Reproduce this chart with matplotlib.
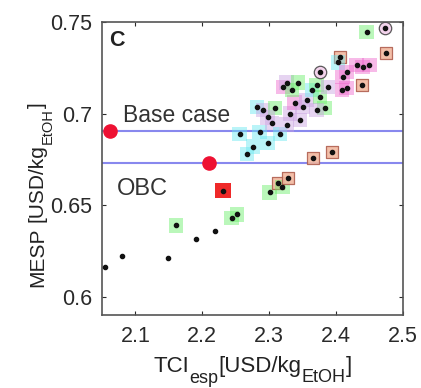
import matplotlib
matplotlib.use("Agg")
import matplotlib.pyplot as plt
from matplotlib.transforms import IdentityTransform

plt.rcParams["font.family"] = ["Liberation Sans", "DejaVu Sans"]

# scenario points: TCI_esp (x), MESP (y), halo group
tci = [2.054, 2.080, 2.149, 2.161, 2.190, 2.219, 2.231, 2.244, 2.252,
       2.301, 2.313, 2.320, 2.328, 2.365, 2.394,
       2.256, 2.267, 2.276, 2.298, 2.286,
       2.282, 2.291, 2.309, 2.298, 2.304, 2.316, 2.326, 2.331, 2.338, 2.350,
       2.346, 2.321, 2.326, 2.334, 2.343, 2.356, 2.364, 2.371, 2.376, 2.376,
       2.383, 2.371, 2.388,
       2.406, 2.403, 2.410, 2.416, 2.409, 2.416, 2.431, 2.440, 2.450, 2.439,
       2.446, 2.473, 2.474]
mesp = [0.616, 0.622, 0.621, 0.639, 0.6315, 0.636, 0.658, 0.643, 0.645,
        0.657, 0.662, 0.660, 0.665, 0.676, 0.679,
        0.689, 0.678, 0.682, 0.684, 0.690,
        0.7036, 0.702, 0.703, 0.698, 0.695, 0.689, 0.694, 0.700, 0.706, 0.7036,
        0.6965, 0.7145, 0.717, 0.713, 0.717, 0.7074, 0.713, 0.7156, 0.709, 0.7227,
        0.703, 0.702, 0.7145,
        0.731, 0.728, 0.720, 0.7227, 0.713, 0.714, 0.7265, 0.7255, 0.7265, 0.7156,
        0.7447, 0.7467, 0.733]
group = ["none", "none", "none", "green", "none", "none", "red", "green", "green",
         "green", "salmon", "green", "salmon", "salmon", "salmon",
         "cyan", "cyan", "cyan", "cyan", "cyan",
         "cyan", "purple", "green", "purple", "purple", "cyan", "purple", "purple", "magenta", "purple",
         "purple", "magenta", "purple", "green", "green", "purple", "cyan", "green", "green", "circle",
         "green", "purple", "purple",
         "salmon", "cyan", "magenta", "magenta", "magenta", "magenta", "magenta", "magenta", "magenta", "salmon",
         "green", "circle", "salmon"]

halo_colors = {"green": "#66ee66", "red": "#ee1111", "salmon": "#f2b8a0",
               "cyan": "#66e8f0", "magenta": "#ee66cc", "purple": "#c8a0e0",
               "circle": "#f0c8e8"}

base_case = (2.062, 0.6905)
obc = (2.210, 0.673)

xticks = [2.1, 2.2, 2.3, 2.4, 2.5]
xticklabels = ["2.1", "2.2", "2.3", "2.4", "2.5"]
yticks = [0.6, 0.65, 0.7, 0.75]
yticklabels = ["0.6", "0.65", "0.7", "0.75"]

W, H = 421, 388
fig = plt.figure(figsize=(W / 100, H / 100), dpi=100)
ax = fig.add_axes([0.242, 0.188, 0.715, 0.755])

for xi, yi, g in zip(tci, mesp, group):
    if g == "none":
        continue
    if g == "circle":
        ax.scatter(xi, yi, s=80, marker="o", facecolor=halo_colors[g],
                   edgecolor="#333333", linewidths=0.9, alpha=0.8, zorder=2)
    elif g == "salmon":
        ax.scatter(xi, yi, s=80, marker="s", facecolor=halo_colors[g],
                   edgecolor="#b06050", linewidths=0.9, alpha=0.9, zorder=2)
    elif g == "red":
        ax.scatter(xi, yi, s=130, marker="s", facecolor=halo_colors[g],
                   edgecolor="none", alpha=0.9, zorder=2)
    else:
        ax.scatter(xi, yi, s=110, marker="s", facecolor=halo_colors[g],
                   edgecolor="none", alpha=0.45, zorder=2)

ax.scatter(tci, mesp, s=9, color="#111111", zorder=3)

ax.axhline(base_case[1], color="#8888ee", lw=1.5, zorder=1)
ax.axhline(obc[1], color="#8888ee", lw=1.5, zorder=1)
ax.scatter([base_case[0], obc[0]], [base_case[1], obc[1]], s=90,
           color="#ee1133", zorder=4, clip_on=False)

ax.text(2.081, 0.6954, "Base case", fontsize=16.5, color="#333333")
ax.text(2.0724, 0.6555, "OBC", fontsize=17, color="#333333")
ax.text(2.061, 0.7372, "C", fontsize=15.5, fontweight="bold", color="#222222")

ax.set_xlim(2.05, 2.5)
ax.set_ylim(0.59, 0.75)
ax.set_xticks(xticks)
ax.set_xticklabels(xticklabels)
ax.set_yticks(yticks)
ax.set_yticklabels(yticklabels)
ax.tick_params(direction="in", top=True, right=True, labelsize=15.5,
               colors="#2a2a2a", length=3)
ax.tick_params(axis="x", pad=8)
ax.tick_params(axis="y", pad=7)
for sp in ax.spines.values():
    sp.set_color("#555555")
    sp.set_linewidth(1.2)

# axis labels with large subscripts, built piece by piece
renderer = fig.canvas.get_renderer()
ident = IdentityTransform()
label_color = "#222222"

def hlabel(pieces, xc, yb):
    widths = []
    for s, fs, dy in pieces:
        t = fig.text(0, 0, s, fontsize=fs, transform=ident, ha="left", va="baseline")
        widths.append(t.get_window_extent(renderer).width)
        t.remove()
    x = xc - sum(widths) / 2
    for (s, fs, dy), w in zip(pieces, widths):
        fig.text(x, yb - dy, s, fontsize=fs, transform=ident, ha="left",
                 va="baseline", color=label_color)
        x += w

def vlabel(pieces, xb, y0):
    y = y0
    for s, fs, dx in pieces:
        t = fig.text(xb + dx, y, s, fontsize=fs, transform=ident, ha="left",
                     va="baseline", rotation=90, rotation_mode="anchor",
                     color=label_color)
        y += t.get_window_extent(renderer).height

hlabel([("TCI", 16, 0), ("esp", 13, 11), ("[USD/kg", 16, 0),
        ("EtOH", 13, 10), ("]", 16, 0)], 253, H - 372)
vlabel([("MESP", 15, 0), (" ", 15, 0), ("[USD/kg", 15, 0),
        ("EtOH", 10.5, 9), ("]", 15, 0)], 43, H - 287)

fig.savefig("out.png", dpi=100)
